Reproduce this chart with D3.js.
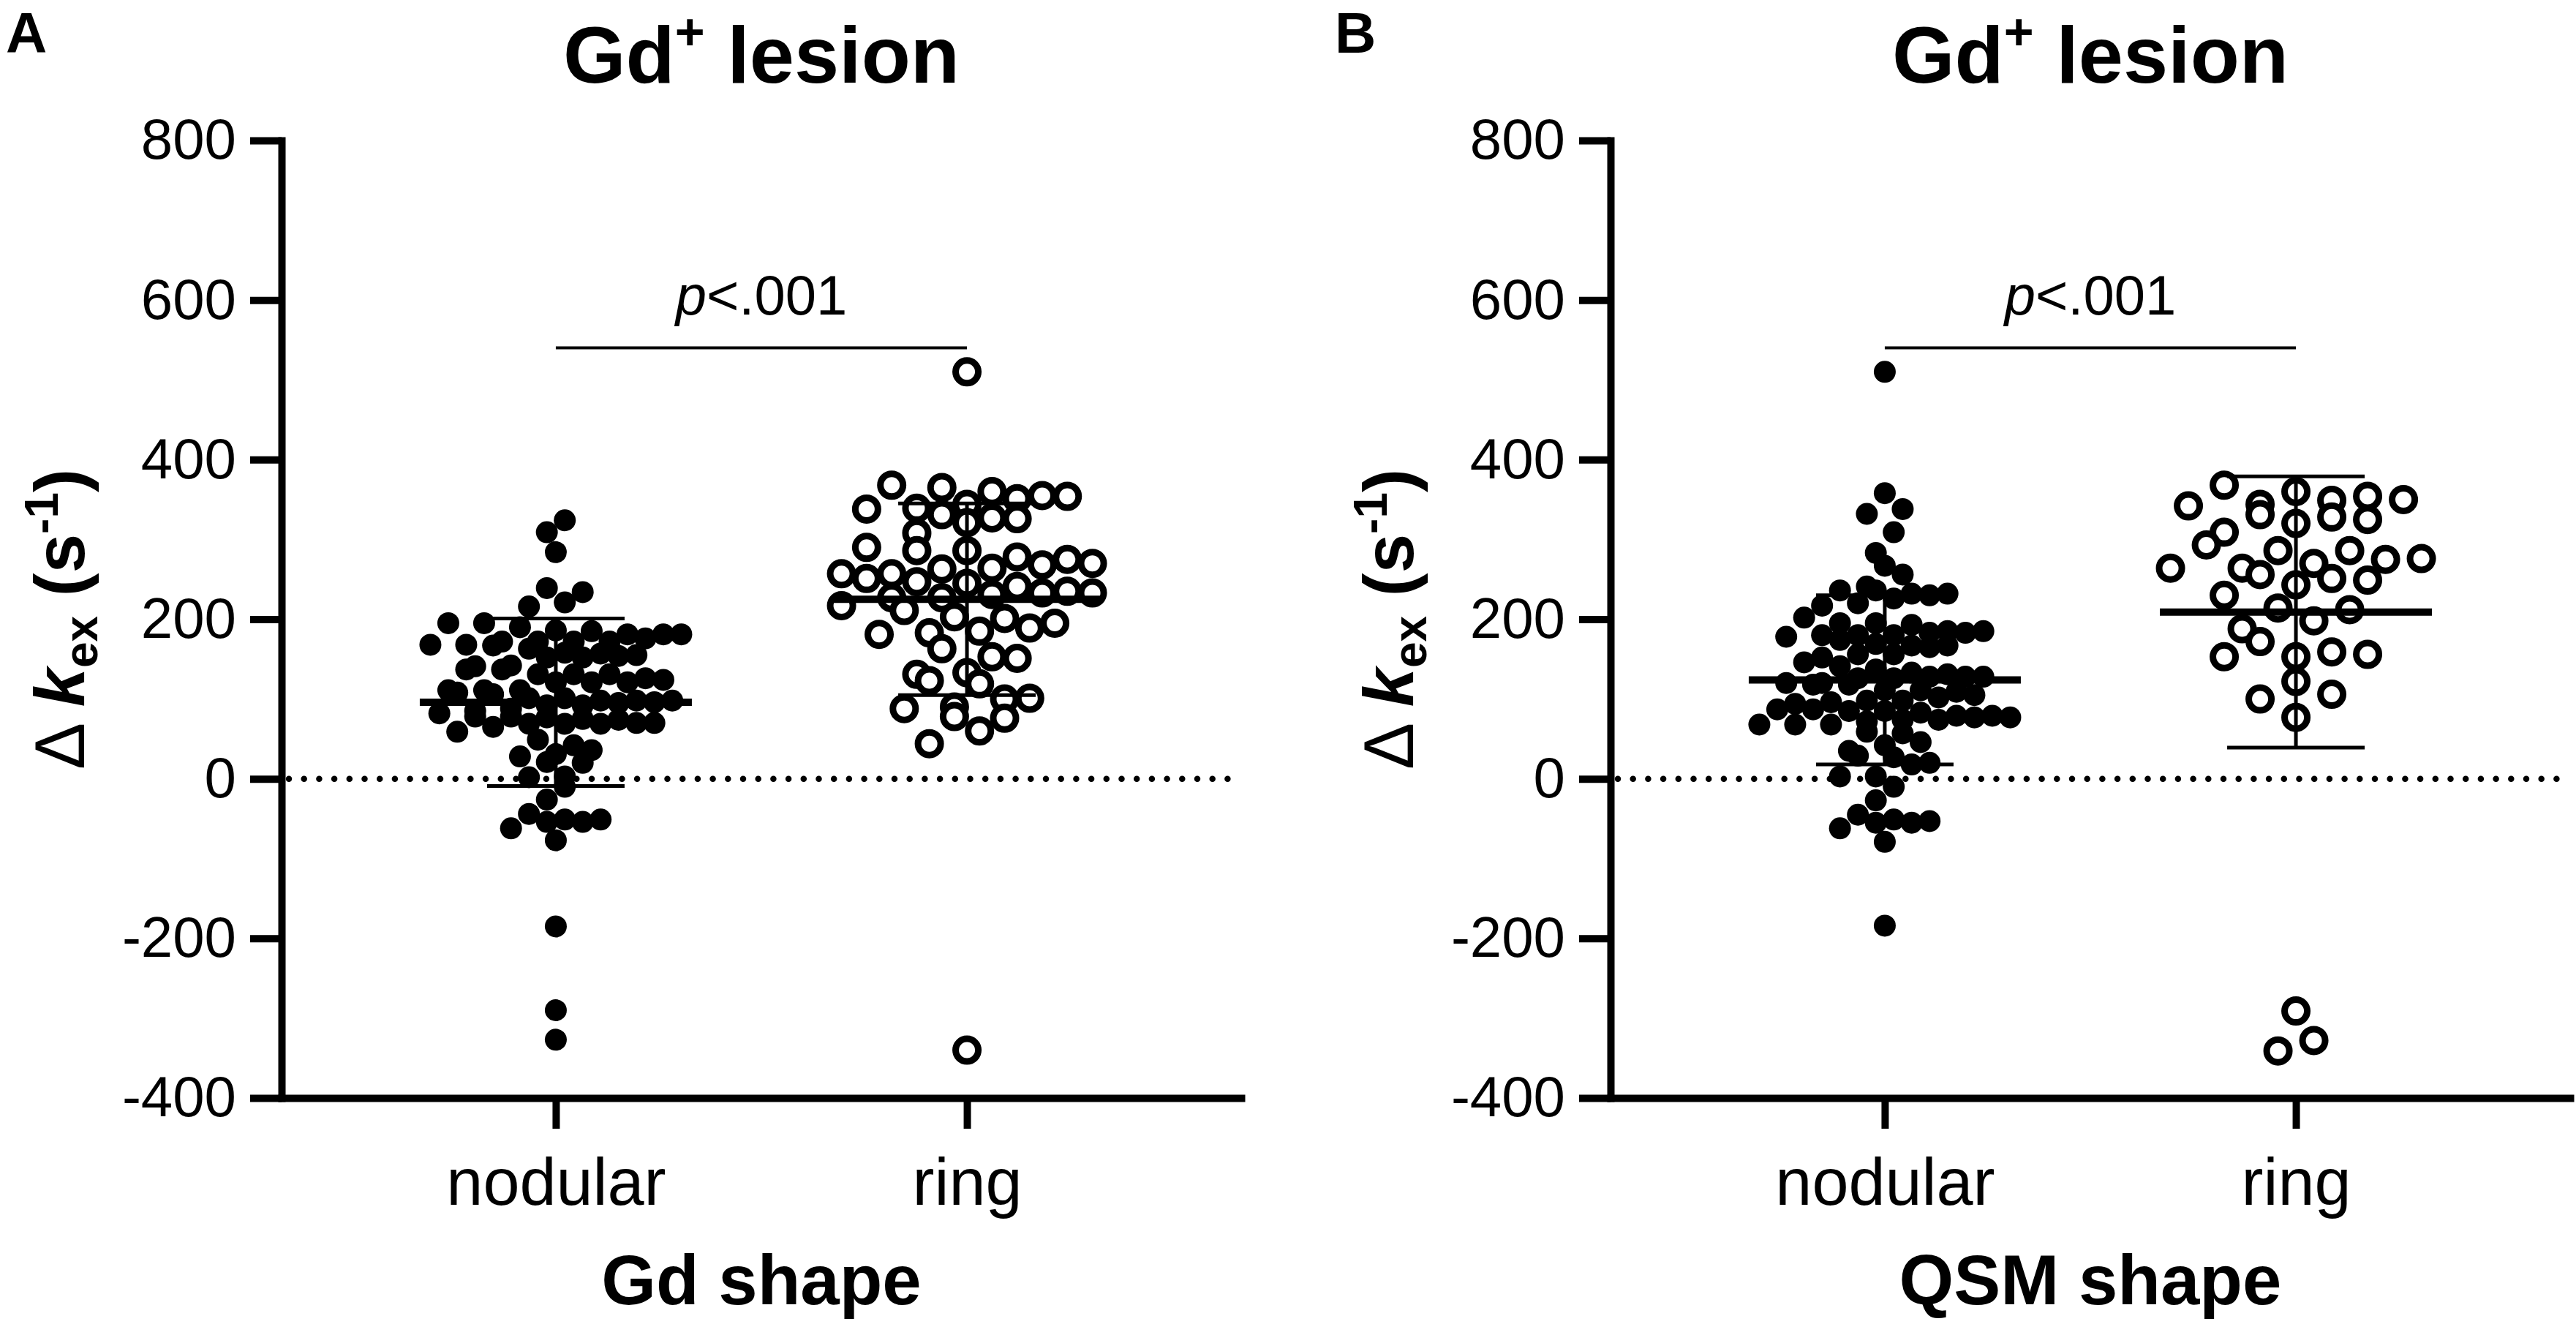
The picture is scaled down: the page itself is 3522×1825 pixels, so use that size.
<!DOCTYPE html>
<html>
<head>
<meta charset="utf-8">
<script src="https://cdn.jsdelivr.net/npm/d3@7"></script>
<style>
  body { margin: 0; background: #fff; }
  svg { display: block; }
</style>
</head>
<body>
<script>
// categories, ticks, labels
const groups = ["nodular", "ring"];
const yTicks = [-400, -200, 0, 200, 400, 600, 800];
const panelLetters = ["A", "B"];
const xTitles = ["Gd shape", "QSM shape"];
const pTexts = ["<.001", "<.001"];
const bracketValues = [540, 540];

// delta kex values (s^-1)
const gdNodular = [324, 309, 284, 239, 221, 216, 234, 195, 195, 181, 172, 172, 186, 181, 181, 172, 172, 168,
  185, 190, 176, 168, 167, 158, 155, 152, 157, 154, 152, 163, 142, 141, 126, 131, 137, 131, 124, 131, 137,
  121, 121, 121, 111, 96, 85, 77, 92, 101, 92, 101, 88, 98, 95, 106, 98, 98, 111, 111, 108, 78, 69, 82, 75,
  78, 74, 70, 59, 69, 69, 65, 70, 49, 42, 36, 28, 31, 21, 20, 3, 2, -10, -26, -44, -62, -54, -51, -54, -51,
  -77, -185, -290, -327];
const gdRing = [510, 351, 365, 331, 338, 354, 321, 344, 308, 360, 327, 368, 326, 355, 339, 286, 251, 270, 235,
  263, 231, 275, 245, 278, 247, 217, 264, 233, 203, 286, 257, 227, 195, 241, 211, 181, 290, 257, 227, 268, 233,
  201, 183, 189, 185, 151, 123, 131, 163, 133, 153, 119, 100, 88, 101, 78, 76, 90, 60, 44, -340];
const qsmNodular = [510, 358, 332, 338, 309, 283, 267, 256, 232, 230, 232, 241, 226, 217, 236, 236, 220, 183,
  180, 180, 195, 202, 185, 169, 165, 167, 178, 180, 174, 195, 167, 185, 193, 183, 156, 156, 146, 152, 137, 128,
  126, 118, 118, 105, 109, 111, 133, 128, 120, 126, 120, 131, 102, 141, 111, 128, 98, 96, 98, 87, 94, 87, 74,
  83, 85, 85, 79, 74, 79, 68, 59, 68, 72, 77, 77, 68, 57, 46, 35, 42, 29, 27, 20, 18, 3, 3, -10, -27, -45, -62,
  -51, -53, -55, -55, -79, -184];
const qsmRing = [350, 325, 344, 309, 368, 354, 328, 360, 331, 349, 320, 342, 293, 264, 251, 275, 243, 212, 264,
  286, 249, 214, 270, 230, 198, 286, 256, 276, 172, 153, 188, 156, 159, 122, 153, 106, 100, 77, -291, -341, -328];

// mean and SD as drawn
const gdMeans = [96, 225];
const gdSD = [105, 120];
const qsmMeans = [124, 209];
const qsmSD = [106, 170];

const panels = [
  { letter: panelLetters[0], xTitle: xTitles[0], p: pTexts[0], bracket: bracketValues[0],
    series: [gdNodular, gdRing], means: gdMeans, sd: gdSD },
  { letter: panelLetters[1], xTitle: xTitles[1], p: pTexts[1], bracket: bracketValues[1],
    series: [qsmNodular, qsmRing], means: qsmMeans, sd: qsmSD }
];

const W = 3522, H = 1825;
const font = "'Liberation Sans', Arial, Helvetica, sans-serif";
const panelShift = 1817;
const plotLeft = 385, plotRight = 1697, plotTop = 192, plotBottom = 1501;

const svg = d3.select("body").append("svg")
  .attr("width", W)
  .attr("height", H)
  .attr("font-family", font);

const y = d3.scaleLinear().domain([-400, 800]).range([plotBottom, plotTop]);
const x = d3.scalePoint().domain(groups).range([plotLeft, plotRight]).padding(0.667);

// rows of points that sit close in y are spread out side by side (prism-like)
function swarm(values, rowPx, spread) {
  const sorted = values.slice().sort((a, b) => b - a);
  const rows = [];
  let cur = null;
  sorted.forEach(v => {
    if (!cur || y(v) - y(cur[0]) >= rowPx) { cur = [v]; rows.push(cur); }
    else cur.push(v);
  });
  const maxN = d3.max(rows, r => r.length);
  const dx = maxN > 1 ? Math.min(spread / (maxN - 1), 50) : 0;
  const out = [];
  rows.forEach(r => {
    const asc = r.slice().sort((a, b) => a - b);
    const order = [];
    let lo = 0, hi = asc.length - 1, t = 0;
    while (lo <= hi) { order.push(t % 2 ? asc[hi--] : asc[lo++]); t++; }
    order.forEach((v, k) => out.push({ v: v, off: (k - (r.length - 1) / 2) * dx }));
  });
  return out;
}

panels.forEach((pn, pi) => {
  const g = svg.append("g").attr("transform", `translate(${pi * panelShift},0)`);

  // panel letter
  g.append("text")
    .attr("x", 8).attr("y", 72)
    .attr("font-size", 78).attr("font-weight", "bold")
    .text(pn.letter);

  // title
  const cx = (plotLeft + plotRight) / 2;
  const title = g.append("text")
    .attr("x", cx).attr("y", 113)
    .attr("text-anchor", "middle")
    .attr("font-size", 110).attr("font-weight", "bold");
  title.append("tspan").text("Gd");
  title.append("tspan").attr("font-size", 70).attr("dy", -45).text("+");
  title.append("tspan").attr("dy", 45).text(" lesion");

  // y axis
  const yAxis = g.append("g")
    .attr("transform", `translate(${plotLeft},0)`)
    .call(d3.axisLeft(y).tickValues(yTicks).tickFormat(d => String(d))
      .tickSize(43).tickSizeOuter(0).tickPadding(19));
  // x axis
  const xAxis = g.append("g")
    .attr("transform", `translate(0,${plotBottom})`)
    .call(d3.axisBottom(x).tickSize(42).tickSizeOuter(0).tickPadding(40));

  [yAxis, xAxis].forEach(ax => {
    ax.attr("font-family", font);
    ax.select(".domain").attr("stroke", "#000").attr("stroke-width", 10).attr("stroke-linecap", "square");
    ax.selectAll(".tick line").attr("stroke", "#000").attr("stroke-width", 10);
    ax.selectAll(".tick text").attr("fill", "#000");
  });
  yAxis.attr("font-size", 78);
  xAxis.attr("font-size", 90);

  // y axis title
  const yl = g.append("text")
    .attr("transform", `translate(115,${(plotTop + plotBottom) / 2}) rotate(-90)`)
    .attr("text-anchor", "middle")
    .attr("font-size", 96).attr("font-weight", "bold");
  yl.append("tspan").attr("font-weight", "normal").text("\u0394 ");
  yl.append("tspan").attr("font-style", "italic").text("k");
  yl.append("tspan").attr("font-size", 64).attr("dy", 18).text("ex");
  yl.append("tspan").attr("dy", -18).text(" (s");
  yl.append("tspan").attr("font-size", 64).attr("dy", -36).text("-1");
  yl.append("tspan").attr("dy", 36).text(")");

  // x axis title
  g.append("text")
    .attr("x", cx).attr("y", 1783)
    .attr("text-anchor", "middle")
    .attr("font-size", 96).attr("font-weight", "bold")
    .text(pn.xTitle);

  // zero reference line
  g.append("line")
    .attr("x1", plotLeft + 10).attr("x2", plotRight)
    .attr("y1", y(0)).attr("y2", y(0))
    .attr("stroke", "#000").attr("stroke-width", 8.5)
    .attr("stroke-linecap", "round")
    .attr("stroke-dasharray", "0 20.7");

  // significance bracket
  g.append("line")
    .attr("x1", x(groups[0])).attr("x2", x(groups[1]))
    .attr("y1", y(pn.bracket)).attr("y2", y(pn.bracket))
    .attr("stroke", "#000").attr("stroke-width", 4);
  const pt = g.append("text")
    .attr("x", (x(groups[0]) + x(groups[1])) / 2).attr("y", y(pn.bracket) - 46)
    .attr("text-anchor", "middle")
    .attr("font-size", 76);
  pt.append("tspan").attr("font-style", "italic").text("p");
  pt.append("tspan").text(pn.p);

  // points
  pn.series.forEach((vals, gi) => {
    const cxg = x(groups[gi]);
    const filled = gi === 0;
    const pts = swarm(vals, filled ? 30 : 40, 343);
    g.append("g").selectAll("circle")
      .data(pts)
      .join("circle")
      .attr("cx", d => cxg + d.off)
      .attr("cy", d => y(d.v))
      .attr("r", filled ? 15 : 15.5)
      .attr("fill", filled ? "#000" : "#fff")
      .attr("stroke", filled ? "none" : "#000")
      .attr("stroke-width", filled ? 0 : 9);
  });

  // mean +/- SD
  groups.forEach((grp, gi) => {
    const cxg = x(grp);
    const m = pn.means[gi], s = pn.sd[gi];
    const eb = g.append("g").attr("stroke", "#000");
    eb.append("line")
      .attr("x1", cxg).attr("x2", cxg)
      .attr("y1", y(m + s)).attr("y2", y(m - s))
      .attr("stroke-width", 5);
    [m + s, m - s].forEach(v => {
      eb.append("line")
        .attr("x1", cxg - 94).attr("x2", cxg + 94)
        .attr("y1", y(v)).attr("y2", y(v))
        .attr("stroke-width", 5);
    });
    eb.append("line")
      .attr("x1", cxg - 186).attr("x2", cxg + 186)
      .attr("y1", y(m)).attr("y2", y(m))
      .attr("stroke-width", 10);
  });
});
</script>
</body>
</html>
